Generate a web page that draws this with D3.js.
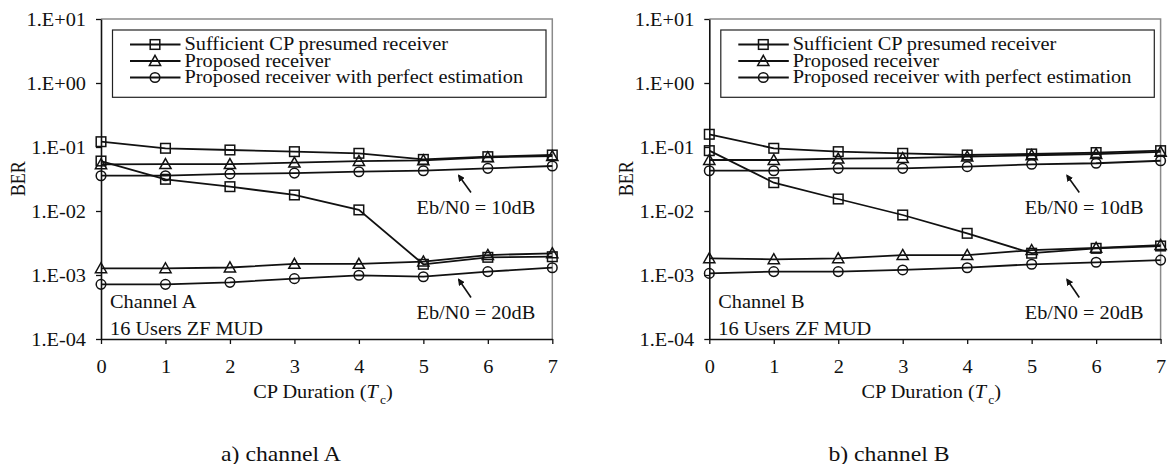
<!DOCTYPE html>
<html>
<head>
<meta charset="utf-8">
<script src="https://cdn.jsdelivr.net/npm/d3@7"></script>
<style>
  html, body { margin: 0; padding: 0; background: #fff; }
  svg text { font-family: "Liberation Serif", "Times New Roman", Times, "DejaVu Serif", serif; }
</style>
</head>
<body>
<svg id="chart" width="1171" height="464"></svg>
<script>
// CP duration in chip periods
const cpDuration = [0, 1, 2, 3, 4, 5, 6, 7];

// Channel A
const chA_sufficient_10dB = [0.121, 0.0955, 0.0898, 0.0846, 0.0797, 0.064, 0.0706, 0.075];
const chA_proposed_10dB   = [0.0537, 0.054, 0.054, 0.0569, 0.0603, 0.062, 0.069, 0.072];
const chA_perfect_10dB    = [0.0356, 0.0356, 0.038, 0.0391, 0.0411, 0.0426, 0.0464, 0.0505];
const chA_sufficient_20dB = [0.0604, 0.0313, 0.024, 0.0178, 0.0104, 0.00147, 0.00189, 0.00193];
const chA_proposed_20dB   = [0.00127, 0.00127, 0.00131, 0.00149, 0.00149, 0.00162, 0.00205, 0.00218];
const chA_perfect_20dB    = [0.000714, 0.000714, 0.000768, 0.000877, 0.00099, 0.00094, 0.00113, 0.0013];

// Channel B
const chB_sufficient_10dB = [0.158, 0.0955, 0.0846, 0.0797, 0.075, 0.0778, 0.0819, 0.0877];
const chB_proposed_10dB   = [0.0626, 0.0626, 0.0657, 0.067, 0.0706, 0.0743, 0.0778, 0.0838];
const chB_perfect_10dB    = [0.0426, 0.0426, 0.0464, 0.0464, 0.0493, 0.0537, 0.0557, 0.061];
const chB_sufficient_20dB = [0.0877, 0.0277, 0.0154, 0.00866, 0.00448, 0.00219, 0.00261, 0.00284];
const chB_proposed_20dB   = [0.00182, 0.00176, 0.00182, 0.00205, 0.00205, 0.00245, 0.00265, 0.00294];
const chB_perfect_20dB    = [0.00106, 0.00113, 0.00113, 0.0012, 0.0013, 0.00147, 0.00158, 0.00171];

const yTickValues = [1e-4, 1e-3, 1e-2, 1e-1, 1, 10];
const yTickLabels = ["1.E-04", "1.E-03", "1.E-02", "1.E-01", "1.E+00", "1.E+01"];
const xTickLabels = ["0", "1", "2", "3", "4", "5", "6", "7"];

const legendLabels = [
  "Sufficient CP presumed receiver",
  "Proposed receiver",
  "Proposed receiver with perfect estimation"
];
const seriesShapes = ["square", "triangle", "circle"];

const panels = [
  {
    left: 101, channel: "Channel A", caption: "a) channel A", captionX: 281,
    series10: [chA_sufficient_10dB, chA_proposed_10dB, chA_perfect_10dB],
    series20: [chA_sufficient_20dB, chA_proposed_20dB, chA_perfect_20dB]
  },
  {
    left: 709.3, channel: "Channel B", caption: "b) channel B", captionX: 889,
    series10: [chB_sufficient_10dB, chB_proposed_10dB, chB_perfect_10dB],
    series20: [chB_sufficient_20dB, chB_proposed_20dB, chB_perfect_20dB]
  }
];

const SERIF = '"Liberation Serif", "Times New Roman", Times, "DejaVu Serif", serif';
const SX = 1.13;          // horizontal text stretch
const FS = 18;            // base font size
const TOP = 19, BOTTOM = 339, WIDTH = 451.3;
const INK = "#111";

const svg = d3.select("#chart").attr("font-family", SERIF);

// arrow head marker
svg.append("defs").append("marker")
  .attr("id", "arrowHead")
  .attr("viewBox", "0 0 10 10")
  .attr("refX", 8).attr("refY", 5)
  .attr("markerWidth", 7).attr("markerHeight", 7)
  .attr("markerUnits", "userSpaceOnUse")
  .attr("orient", "auto")
  .append("path").attr("d", "M0,0 L10,5 L0,10 Z").attr("fill", INK);

const y = d3.scaleLog().domain([1e-4, 10]).range([BOTTOM, TOP]);

function stretchedText(g, x, yPos, str, opts = {}) {
  return g.append("text")
    .attr("transform", `translate(${x},${yPos}) scale(${SX},1)`)
    .attr("text-anchor", opts.anchor || "start")
    .attr("font-family", SERIF)
    .attr("font-size", opts.size || FS)
    .attr("fill", INK)
    .text(str);
}

function drawMarker(g, shape, cx, cy) {
  if (shape === "square") {
    g.append("rect").attr("x", cx - 4.8).attr("y", cy - 4.8)
      .attr("width", 9.6).attr("height", 9.6)
      .attr("fill", "none").attr("stroke", INK).attr("stroke-width", 1.5);
  } else if (shape === "triangle") {
    g.append("path")
      .attr("d", `M${cx},${cy - 5.6} L${cx + 5.6},${cy + 4.4} L${cx - 5.6},${cy + 4.4} Z`)
      .attr("fill", "none").attr("stroke", INK).attr("stroke-width", 1.5);
  } else {
    g.append("circle").attr("cx", cx).attr("cy", cy).attr("r", 4.8)
      .attr("fill", "none").attr("stroke", INK).attr("stroke-width", 1.5);
  }
}

panels.forEach(p => {
  const g = svg.append("g").attr("transform", `translate(${p.left},0)`);
  const x = d3.scaleLinear().domain([0, 7]).range([0, WIDTH]);

  // plot frame: top and right in grey
  g.append("path")
    .attr("d", `M0,${TOP} H${WIDTH} V${BOTTOM}`)
    .attr("fill", "none").attr("stroke", "#8a8a8a").attr("stroke-width", 1.5);

  // y axis
  const yAxis = d3.axisLeft(y).tickValues(yTickValues)
    .tickFormat((d, i) => yTickLabels[i]).tickSize(5).tickSizeOuter(0);
  const gy = g.append("g").call(yAxis)
    .attr("font-family", SERIF).attr("font-size", FS);
  gy.select(".domain").attr("stroke", INK).attr("stroke-width", 1.6);
  gy.selectAll(".tick line").attr("stroke", INK).attr("stroke-width", 1.3);
  gy.selectAll(".tick text")
    .attr("x", 0).attr("dy", "0.34em")
    .attr("transform", `translate(-15,0) scale(${SX},1)`)
    .attr("font-family", SERIF).attr("font-size", FS).attr("fill", INK);

  // x axis
  const xAxis = d3.axisBottom(x).tickValues(cpDuration)
    .tickFormat((d, i) => xTickLabels[i]).tickSize(5).tickSizeOuter(0);
  const gx = g.append("g").attr("transform", `translate(0,${BOTTOM})`).call(xAxis)
    .attr("font-family", SERIF).attr("font-size", FS);
  gx.select(".domain").attr("stroke", INK).attr("stroke-width", 1.6);
  gx.selectAll(".tick line").attr("stroke", INK).attr("stroke-width", 1.3);
  gx.selectAll(".tick text")
    .attr("y", 0).attr("dy", 0)
    .attr("transform", `translate(0,34) scale(${SX},1)`)
    .attr("font-family", SERIF).attr("font-size", FS).attr("fill", INK);

  // axis titles
  g.append("text")
    .attr("transform", `translate(-83.5,178.7) rotate(-90) scale(1,${SX})`)
    .attr("text-anchor", "middle").attr("dy", "0.35em")
    .attr("font-family", SERIF).attr("font-size", FS).attr("fill", INK).text("BER");

  const xt = g.append("text")
    .attr("transform", `translate(222,398) scale(${SX},1)`)
    .attr("text-anchor", "middle").attr("font-family", SERIF)
    .attr("font-size", FS).attr("fill", INK);
  xt.append("tspan").text("CP Duration (");
  xt.append("tspan").attr("font-style", "italic").text("T");
  xt.append("tspan").attr("font-size", 12).attr("dx", 2).attr("dy", 6).text("c");
  xt.append("tspan").attr("dy", -6).text(")");

  // series lines and markers
  const line = d3.line().x((d, i) => x(cpDuration[i])).y(d => y(d));
  [p.series10, p.series20].forEach(group => {
    group.forEach((vals, si) => {
      g.append("path").datum(vals)
        .attr("d", line)
        .attr("fill", "none").attr("stroke", INK).attr("stroke-width", 1.8);
      vals.forEach((v, i) => drawMarker(g, seriesShapes[si], x(cpDuration[i]), y(v)));
    });
  });

  // legend
  g.append("rect").attr("x", 11.5).attr("y", 30).attr("width", 433.5).attr("height", 67.3)
    .attr("fill", "#fff").attr("stroke", "#222").attr("stroke-width", 1.2);
  const legendBaselines = [50, 66.5, 83];
  legendLabels.forEach((lab, i) => {
    const ly = legendBaselines[i] - 5.5;
    g.append("line").attr("x1", 29).attr("x2", 79.5).attr("y1", ly).attr("y2", ly)
      .attr("stroke", INK).attr("stroke-width", 1.8);
    drawMarker(g, seriesShapes[i], 54, ly);
    stretchedText(g, 83.5, legendBaselines[i], lab);
  });

  // annotations
  stretchedText(g, 9, 308.3, p.channel);
  stretchedText(g, 9, 335, "16 Users ZF MUD");
  stretchedText(g, 315.5, 214, "Eb/N0 = 10dB");
  stretchedText(g, 315.5, 318.5, "Eb/N0 = 20dB");
  [[192.5, 175.5], [297.5, 279.5]].forEach(([y0, y1]) => {
    g.append("line")
      .attr("x1", 370).attr("y1", y0).attr("x2", 357.7).attr("y2", y1)
      .attr("stroke", INK).attr("stroke-width", 1.6)
      .attr("marker-end", "url(#arrowHead)");
  });

  // caption
  svg.append("text")
    .attr("transform", `translate(${p.captionX},460.5) scale(${SX},1)`)
    .attr("text-anchor", "middle").attr("font-family", SERIF)
    .attr("font-size", 21).attr("fill", INK)
    .text(p.caption);
});
</script>
</body>
</html>
